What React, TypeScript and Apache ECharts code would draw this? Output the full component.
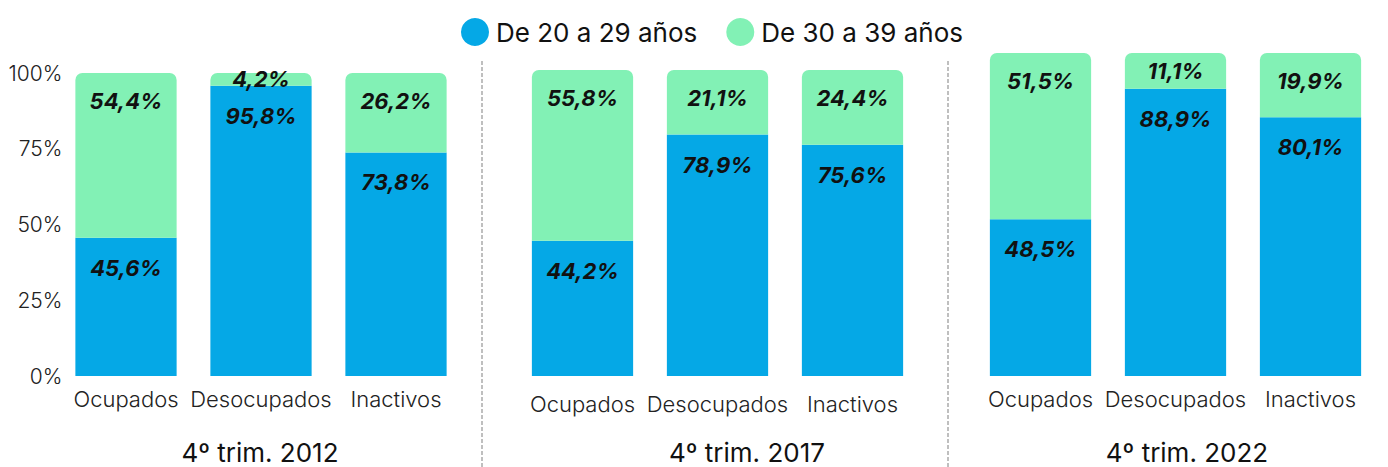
import React, { useEffect, useRef } from "react";
import * as echarts from "echarts";

const categories = ["Ocupados", "Desocupados", "Inactivos"];
const periods = ["4º trim. 2012", "4º trim. 2017", "4º trim. 2022"];
const seriesNames = ["De 20 a 29 años", "De 30 a 39 años"];
const yTicks = [0, 25, 50, 75, 100];

const young2012 = [45.6, 95.8, 73.8];
const older2012 = [54.4, 4.2, 26.2];
const young2017 = [44.2, 78.9, 75.6];
const older2017 = [55.8, 21.1, 24.4];
const young2022 = [48.5, 88.9, 80.1];
const older2022 = [51.5, 11.1, 19.9];

const youngByPeriod = [young2012, young2017, young2022];
const olderByPeriod = [older2012, older2017, older2022];

const BLUE = "#05A8E6";
const GREEN = "#82F1B5";
const FONT = "Inter, 'Noto Sans', sans-serif";

// layout (pixels)
const grids = [
  { left: 58.5, width: 405, top: 73, bottom: 376, catMargin: 12, titleX: 260 },
  { left: 515, width: 405, top: 70, bottom: 376, catMargin: 17, titleX: 747 },
  { left: 973, width: 405, top: 53, bottom: 376, catMargin: 12, titleX: 1187 },
];

const fmt = (v: number) => v.toFixed(1).replace(".", ",") + "%";

export default function App() {
  const ref = useRef<HTMLDivElement>(null);
  useEffect(() => {
    document.body.style.margin = "0";
    if (!ref.current) return;
    const chart = echarts.init(ref.current, undefined, { renderer: "svg" });

    const labelBase = {
      show: true,
      color: "#111",
      fontFamily: FONT,
      fontSize: 22,
      fontWeight: "bold" as const,
      fontStyle: "italic" as const,
    };

    const series: any[] = [];
    grids.forEach((g, i) => {
      series.push({
        type: "bar",
        name: seriesNames[0],
        xAxisIndex: i,
        yAxisIndex: i,
        stack: "s" + i,
        barCategoryGap: "25%",
        itemStyle: { color: BLUE },
        data: youngByPeriod[i].map((v) => ({
          value: v,
          label: { position: v < 15 ? "inside" : "insideTop", distance: 19 },
        })),
        label: { ...labelBase, formatter: (p: any) => fmt(p.value) },
      });
      series.push({
        type: "bar",
        name: seriesNames[1],
        xAxisIndex: i,
        yAxisIndex: i,
        stack: "s" + i,
        barCategoryGap: "25%",
        itemStyle: { color: GREEN, borderRadius: [7, 7, 0, 0] },
        data: olderByPeriod[i].map((v) => ({
          value: v,
          label: { position: v < 15 ? "inside" : "insideTop", distance: 17 },
        })),
        label: { ...labelBase, formatter: (p: any) => fmt(p.value) },
      });
    });

    const option: any = {
      animation: false,
      backgroundColor: "#fff",
      legend: {
        left: 456,
        top: 13,
        itemWidth: 28,
        itemHeight: 28,
        itemGap: 29,
        icon: "circle",
        selectedMode: false,
        textStyle: { fontFamily: FONT, fontSize: 26, color: "#111", padding: [0, 0, 0, 2] },
        data: seriesNames,
      },
      grid: grids.map((g) => ({
        left: g.left,
        width: g.width,
        top: g.top,
        height: g.bottom - g.top,
        containLabel: false,
      })),
      xAxis: grids.map((g, i) => ({
        type: "category",
        gridIndex: i,
        data: categories,
        axisLine: { show: false },
        axisTick: { show: false },
        axisLabel: {
          interval: 0,
          hideOverlap: false,
          margin: g.catMargin,
          fontFamily: FONT,
          fontSize: 22,
          fontWeight: 300,
          color: "#222",
        },
      })),
      yAxis: grids.map((g, i) => ({
        type: "value",
        gridIndex: i,
        min: 0,
        max: 100,
        interval: 25,
        show: i === 0,
        splitLine: { show: false },
        axisLine: { show: false },
        axisTick: { show: false },
        axisLabel: {
          show: i === 0,
          margin: -4,
          fontFamily: FONT,
          fontSize: 21,
          fontWeight: 300,
          color: "#222",
          formatter: (v: number) => (yTicks.includes(v) ? v + "%" : ""),
        },
      })),
      series,
      graphic: [
        ...periods.map((p, i) => ({
          type: "text",
          x: grids[i].titleX,
          y: 452,
          style: {
            text: p,
            align: "center",
            verticalAlign: "middle",
            fontFamily: FONT,
            fontSize: 26,
            fill: "#111",
          },
        })),
        ...[482, 948].map((x) => ({
          type: "line",
          shape: { x1: x, y1: 61, x2: x, y2: 467 },
          style: { stroke: "#aaa", lineWidth: 1.5, lineDash: [4, 2] },
        })),
      ],
    };
    chart.setOption(option);
    return () => chart.dispose();
  }, []);
  return <div ref={ref} style={{ width: 1388, height: 467 }} />;
}
